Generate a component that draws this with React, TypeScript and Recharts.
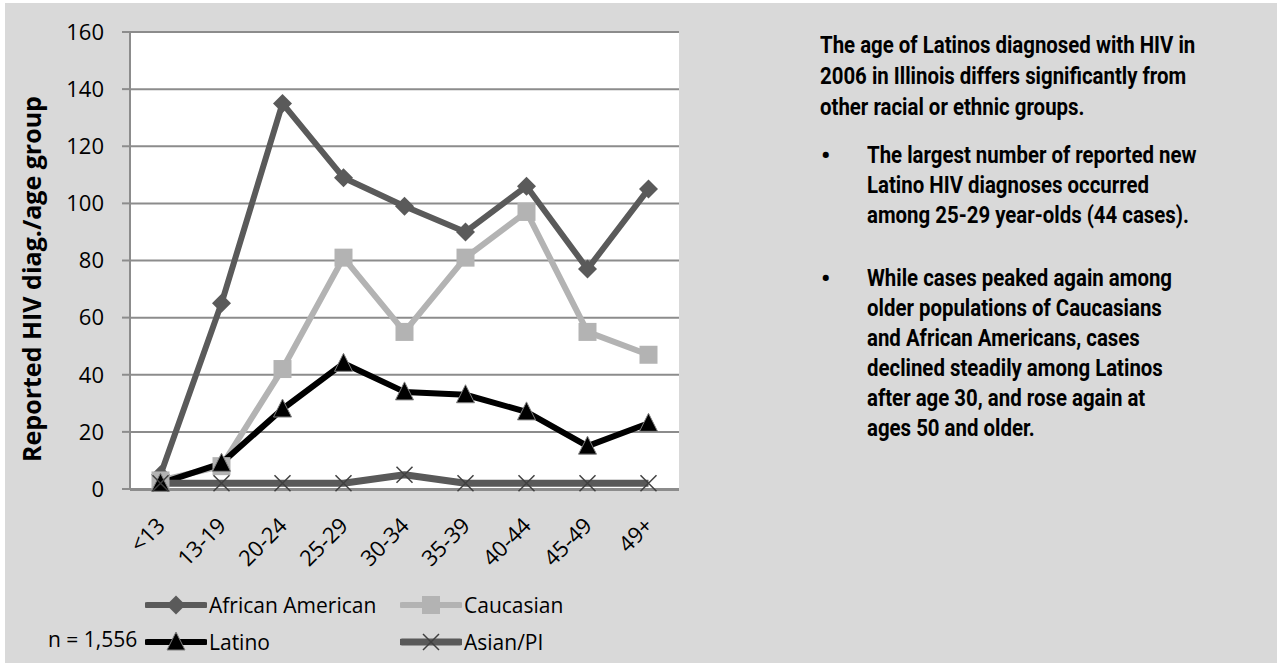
import React from "react";
import {
  LineChart,
  Line,
  XAxis,
  YAxis,
  CartesianGrid,
  Legend,
} from "recharts";

const ageGroups = ["<13", "13-19", "20-24", "25-29", "30-34", "35-39", "40-44", "45-49", "49+"];
const africanAmerican = [5, 65, 135, 109, 99, 90, 106, 77, 105];
const caucasian = [3, 8, 42, 81, 55, 81, 97, 55, 47];
const latino = [2, 9, 28, 44, 34, 33, 27, 15, 23];
const asianPI = [2, 2, 2, 2, 5, 2, 2, 2, 2];
const yTicks = [0, 20, 40, 60, 80, 100, 120, 140, 160];

const chartData = ageGroups.map((age, i) => ({
  age,
  aa: africanAmerican[i],
  cau: caucasian[i],
  lat: latino[i],
  asian: asianPI[i],
}));

const GRID = "#8c8c8c";
const FONT = '"Open Sans", sans-serif';
const NOTE_FONT = 'Roboto, sans-serif';
const NOTE_SCALE = 0.85;

// marker shapes, shared by the lines and the legend
const diamond = (cx: number, cy: number, key?: any) => (
  <path key={key} d={`M${cx},${cy - 9.5}L${cx + 9.5},${cy}L${cx},${cy + 9.5}L${cx - 9.5},${cy}Z`} fill="#5a5a5a" />
);
const square = (cx: number, cy: number, key?: any) => (
  <rect key={key} x={cx - 9} y={cy - 9} width={18} height={18} fill="#b3b3b3" />
);
const triangle = (cx: number, cy: number, key?: any) => (
  <path key={key} d={`M${cx},${cy - 10}L${cx + 9},${cy + 8}L${cx - 9},${cy + 8}Z`} fill="#000" stroke="#808080" strokeWidth={1} />
);
const cross = (cx: number, cy: number, key?: any) => (
  <path key={key} d={`M${cx - 8},${cy - 8}L${cx + 8},${cy + 8}M${cx + 8},${cy - 8}L${cx - 8},${cy + 8}`} stroke="#404040" strokeWidth={1.5} fill="none" />
);

const series = [
  { key: "aa", name: "African American", color: "#5a5a5a", width: 6, marker: diamond },
  { key: "cau", name: "Caucasian", color: "#b3b3b3", width: 6, marker: square },
  { key: "lat", name: "Latino", color: "#000000", width: 6, marker: triangle },
  { key: "asian", name: "Asian/PI", color: "#595959", width: 7, marker: cross },
];

const introLines = [
  "The age of Latinos diagnosed with HIV in",
  "2006 in Illinois differs significantly from",
  "other racial or ethnic groups.",
];
const bullets = [
  ["The largest number of reported new", "Latino HIV diagnoses occurred", "among 25-29 year-olds (44 cases)."],
  [
    "While cases peaked again among",
    "older populations of Caucasians",
    "and African Americans, cases",
    "declined steadily among Latinos",
    "after age 30, and rose again at",
    "ages 50 and older.",
  ],
];

const AgeTick = (props: any) => {
  const { x, y, payload } = props;
  return (
    <g transform={`translate(${x + 6},${y + 38})`}>
      <text textAnchor="end" transform="rotate(-45)" fontSize={22} fontFamily={FONT} fill="#000">
        {payload.value}
      </text>
    </g>
  );
};

const YTitle = () => (
  <text x={0} y={0} transform="translate(41,279) rotate(-90)" textAnchor="middle" fontSize={25} fontWeight="bold" fontFamily={FONT} fill="#000">
    Reported HIV diag./age group
  </text>
);

const renderLegend = () => (
  <div style={{ display: "grid", gridTemplateColumns: "255px 255px", fontFamily: FONT, fontSize: 21, color: "#000" }}>
    {series.map((s) => (
      <div key={s.key} style={{ display: "flex", alignItems: "center", height: 37 }}>
        <svg width={62} height={24} style={{ display: "block" }}>
          <line x1={2} y1={12} x2={60} y2={12} stroke={s.color} strokeWidth={s.width} strokeLinecap="round" />
          {s.marker(31, 12)}
        </svg>
        <span style={{ marginLeft: 2, lineHeight: "24px" }}>{s.name}</span>
      </div>
    ))}
  </div>
);

const NoteLine = ({ text, x, y }: { text: string; x: number; y: number }) => (
  <div
    style={{
      position: "absolute",
      left: x,
      top: y - 15,
      height: 30,
      lineHeight: "30px",
      whiteSpace: "nowrap",
      fontFamily: NOTE_FONT,
      fontWeight: 700,
      fontSize: 24,
      color: "#000",
      transform: `scaleX(${NOTE_SCALE})`,
      transformOrigin: "left center",
    }}
  >
    {text}
  </div>
);

export default function App() {
  const bulletTops = [155, 278];
  return (
    <div style={{ position: "absolute", left: 0, top: 0, width: 1282, height: 666, background: "#fff" }}>
      <div style={{ position: "absolute", left: 5, top: 3, width: 1272, height: 660, background: "#d9d9d9" }} />
      <div style={{ position: "absolute", left: 0, top: 0 }}>
        <LineChart width={780} height={666} data={chartData} margin={{ top: 32, right: 101, bottom: 175, left: 70 }}>
          <CartesianGrid vertical={false} stroke={GRID} strokeWidth={2} fill="#ffffff" />
          <XAxis
            xAxisId="bounds"
            type="number"
            domain={[0, ageGroups.length]}
            allowDataOverflow
            ticks={Array.from({ length: ageGroups.length + 1 }, (_, i) => i)}
            tick={false}
            tickSize={8}
            tickLine={{ stroke: GRID, strokeWidth: 2 }}
            axisLine={{ stroke: GRID, strokeWidth: 2 }}
            height={1}
          />
          <XAxis
            dataKey="age"
            interval={0}
            padding={{ left: 30.5, right: 30.5 }}
            axisLine={false}
            tickLine={false}
            tickSize={0}
            tickMargin={0}
            height={1}
            tick={<AgeTick />}
          />
          <YAxis
            width={60}
            domain={[0, 160]}
            ticks={yTicks}
            interval={0}
            tickSize={8}
            tickMargin={18}
            tickLine={{ stroke: GRID, strokeWidth: 2 }}
            axisLine={{ stroke: GRID, strokeWidth: 2 }}
            tick={{ fontSize: 22, fontFamily: FONT, fill: "#000" }}
            label={<YTitle />}
          />
          <Legend
            layout="horizontal"
            verticalAlign="middle"
            align="center"
            content={renderLegend}
            wrapperStyle={{ left: 145, top: 586, width: 540 }}
          />
          {series.map((s) => (
            <Line
              key={s.key}
              dataKey={s.key}
              name={s.name}
              type="linear"
              stroke={s.color}
              strokeWidth={s.width}
              strokeLinejoin="round"
              dot={(p: any) => s.marker(p.cx, p.cy, `${s.key}-${p.index}`)}
              activeDot={false}
              isAnimationActive={false}
            />
          ))}
        </LineChart>
      </div>
      <div style={{ position: "absolute", left: 48, top: 625, fontFamily: FONT, fontSize: 21, color: "#000", whiteSpace: "nowrap" }}>
        n = 1,556
      </div>
      {introLines.map((l, i) => (
        <NoteLine key={l} text={l} x={820} y={45 + i * 31} />
      ))}
      {bullets.map((lines, b) => (
        <React.Fragment key={b}>
          <div style={{ position: "absolute", left: 821, top: bulletTops[b] - 15, lineHeight: "30px", fontSize: 26, fontFamily: NOTE_FONT, fontWeight: 700 }}>•</div>
          {lines.map((l, i) => (
            <NoteLine key={l} text={l} x={867} y={bulletTops[b] + i * 30} />
          ))}
        </React.Fragment>
      ))}
    </div>
  );
}
